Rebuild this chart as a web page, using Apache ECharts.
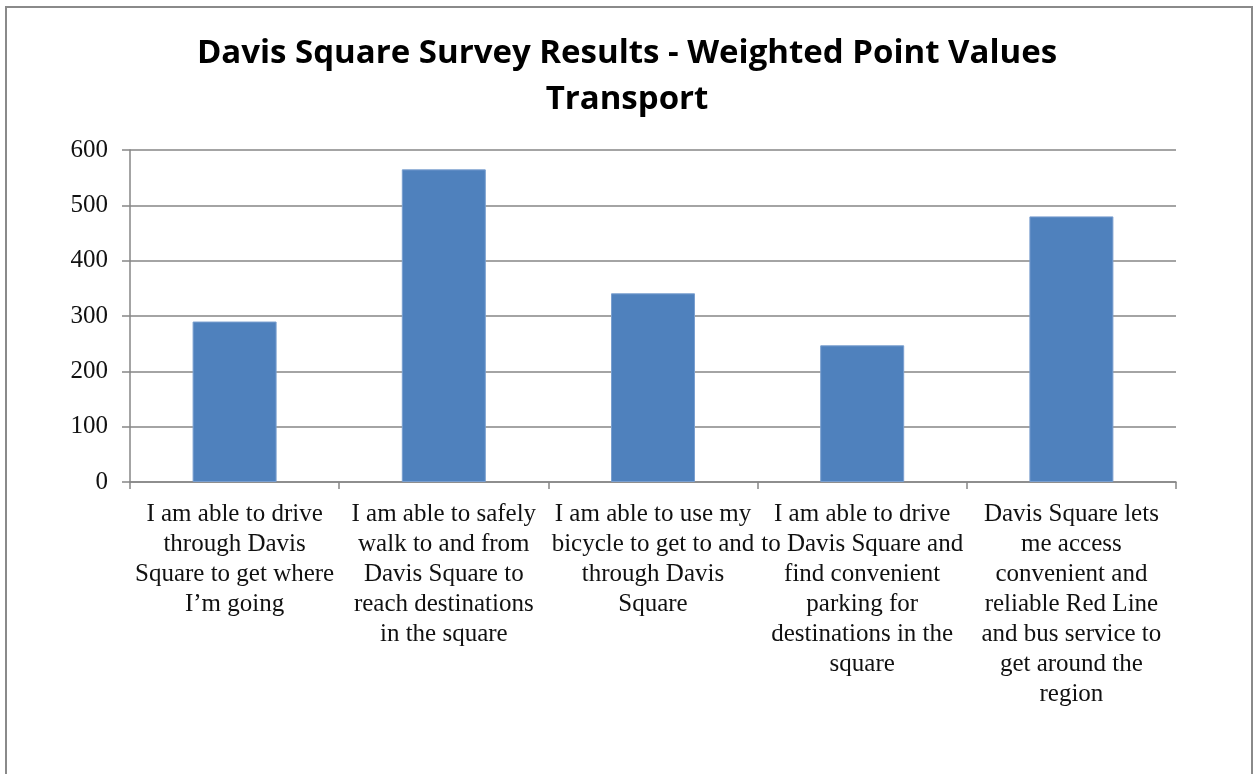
<!DOCTYPE html>
<html>
<head>
<meta charset="utf-8">
<script src="https://cdn.jsdelivr.net/npm/echarts@6/dist/echarts.min.js"></script>
<style>
  html, body { margin: 0; padding: 0; background: #fff; }
  #chart { width: 1254px; height: 774px; }
</style>
</head>
<body>
<div id="chart"></div>
<script>
const titleText = "Davis Square Survey Results - Weighted Point Values\nTransport";
const categories = [
  "I am able to drive\nthrough Davis\nSquare to get where\nI\u2019m going",
  "I am able to safely\nwalk to and from\nDavis Square to\nreach destinations\nin the square",
  "I am able to use my\nbicycle to get to and\nthrough Davis\nSquare",
  "I am able to drive\nto Davis Square and\nfind convenient\nparking for\ndestinations in the\nsquare",
  "Davis Square lets\nme access\nconvenient and\nreliable Red Line\nand bus service to\nget around the\nregion"
];
const pointValues = [290, 565, 341, 247, 480];
const yTicks = { min: 0, max: 600, interval: 100 };

const chart = echarts.init(document.getElementById("chart"));

chart.setOption({
  backgroundColor: "#fff",
  animation: false,
  graphic: [{
    type: "rect",
    shape: { x: 6, y: 7, width: 1246, height: 800 },
    style: { fill: "none", stroke: "#8a8a8a", lineWidth: 2 }
  }],
  title: {
    text: titleText,
    left: "center",
    top: 26,
    textStyle: {
      fontFamily: "Open Sans",
      fontWeight: "bold",
      fontSize: 33,
      lineHeight: 46,
      color: "#000"
    }
  },
  grid: { left: 130, right: 78, top: 150, bottom: 292, containLabel: false },
  xAxis: {
    type: "category",
    data: categories,
    axisLine: { lineStyle: { color: "#868686", width: 1.5 } },
    axisTick: { show: true, length: 7, lineStyle: { color: "#868686", width: 1.5 } },
    axisLabel: {
      interval: 0,
      margin: 17,
      fontFamily: "Liberation Serif",
      fontSize: 25,
      lineHeight: 30,
      color: "#111",
      align: "center"
    }
  },
  yAxis: {
    type: "value",
    min: yTicks.min,
    max: yTicks.max,
    interval: yTicks.interval,
    axisLine: { show: true, lineStyle: { color: "#868686", width: 1.5 } },
    axisTick: { show: true, length: 8, lineStyle: { color: "#868686", width: 1.5 } },
    splitLine: { lineStyle: { color: "#868686", width: 1.5 } },
    axisLabel: {
      margin: 22,
      fontFamily: "Liberation Serif",
      fontSize: 25,
      color: "#111"
    }
  },
  series: [{
    type: "bar",
    data: pointValues,
    barWidth: 84,
    itemStyle: { color: "#4F81BD", borderColor: "#7a9fcf", borderWidth: 1 }
  }]
});
</script>
</body>
</html>
